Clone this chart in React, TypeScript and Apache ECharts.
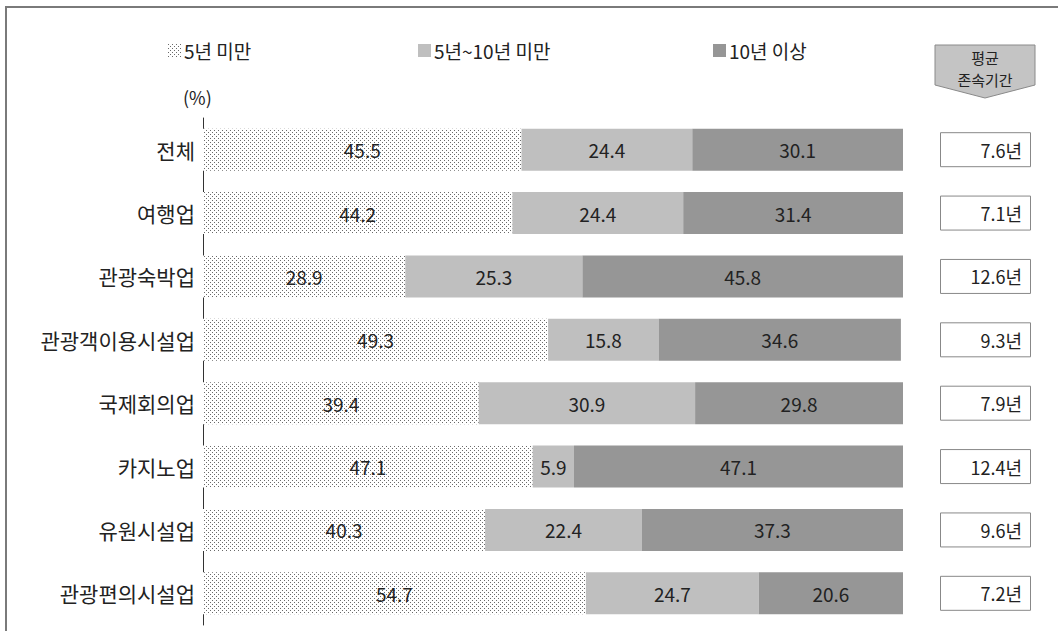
import React, { useEffect, useRef } from "react";
import * as echarts from "echarts";

const categories = ["전체", "여행업", "관광숙박업", "관광객이용시설업", "국제회의업", "카지노업", "유원시설업", "관광편의시설업"];
const under5 = [45.5, 44.2, 28.9, 49.3, 39.4, 47.1, 40.3, 54.7];
const from5to10 = [24.4, 24.4, 25.3, 15.8, 30.9, 5.9, 22.4, 24.7];
const over10 = [30.1, 31.4, 45.8, 34.6, 29.8, 47.1, 37.3, 20.6];
const avgYears = [7.6, 7.1, 12.6, 9.3, 7.9, 12.4, 9.6, 7.2];
const seriesNames = ["5년 미만", "5년~10년 미만", "10년 이상"];
const legendLefts = [163, 413, 708];

const FONT = "'Noto Sans CJK KR', 'Noto Sans', sans-serif";

function makeDotPattern(): string {
  const c = document.createElement("canvas");
  c.width = 4;
  c.height = 4;
  const ctx = c.getContext("2d")!;
  ctx.fillStyle = "#ffffff";
  ctx.fillRect(0, 0, 4, 4);
  ctx.fillStyle = "#6a6a6a";
  ctx.fillRect(0, 0, 1, 1);
  ctx.fillRect(2, 2, 1, 1);
  return c.toDataURL();
}

export default function App() {
  const ref = useRef<HTMLDivElement>(null);
  useEffect(() => {
    if (!ref.current) return;
    const chart = echarts.init(ref.current, null, { renderer: "svg" });
    const dots = { image: makeDotPattern(), repeat: "repeat", imageWidth: 4, imageHeight: 4 } as any;
    const labelStyle = {
      show: true,
      position: "inside",
      color: "#222",
      fontSize: 19,
      fontFamily: FONT,
      formatter: (p: any) => Number(p.value).toFixed(1),
    };
    const colors = [dots, "#bfbfbf", "#969696"];
    const datas = [under5, from5to10, over10];
    const stackSeries = datas.map((d, i) => ({
      name: seriesNames[i],
      type: "bar",
      stack: "total",
      xAxisIndex: 0,
      yAxisIndex: 0,
      barWidth: 42,
      data: d,
      itemStyle: { color: colors[i] },
      label: labelStyle,
    }));
    chart.setOption({
      animation: false,
      legend: seriesNames.map((n, i) => ({
        data: [n],
        left: legendLefts[i],
        top: 36,
        itemGap: 4,
        itemWidth: 13,
        itemHeight: 13,
        icon: "rect",
        textStyle: { fontSize: 19, color: "#222", fontFamily: FONT, padding: [0, 0, 0, -2] },
      })),
      grid: [
        { left: 203, top: 118, width: 700, height: 507 },
        { left: 940, top: 118, width: 91, height: 507 },
      ],
      xAxis: [
        { type: "value", gridIndex: 0, min: 0, max: 100, show: false },
        { type: "value", gridIndex: 1, min: 0, max: 1, show: false },
      ],
      yAxis: [
        {
          type: "category",
          gridIndex: 0,
          inverse: true,
          data: categories,
          axisLine: { show: true, lineStyle: { color: "#333", width: 1 } },
          axisTick: { show: false },
          axisLabel: { color: "#222", fontSize: 21, fontFamily: FONT, margin: 8 },
        },
        {
          type: "category",
          gridIndex: 1,
          inverse: true,
          data: categories,
          show: false,
        },
      ],
      series: [
        ...stackSeries,
        {
          name: "평균 존속기간",
          type: "bar",
          xAxisIndex: 1,
          yAxisIndex: 1,
          barWidth: 35,
          data: avgYears.map(() => 1),
          itemStyle: { color: "#fff", borderColor: "#888", borderWidth: 1 },
          label: {
            show: true,
            position: "insideRight",
            distance: 9,
            color: "#222",
            fontSize: 18,
            fontFamily: FONT,
            formatter: (p: any) => avgYears[p.dataIndex].toFixed(1) + "년",
          },
        },
      ],
      graphic: [
        { type: "line", shape: { x1: 5, y1: 7, x2: 1058, y2: 7 }, style: { stroke: "#7a7a7a", lineWidth: 2 } },
        { type: "line", shape: { x1: 6, y1: 7, x2: 6, y2: 631 }, style: { stroke: "#7a7a7a", lineWidth: 2 } },
        {
          type: "text",
          left: 183,
          top: 88,
          style: { text: "(%)", fontSize: 18, fill: "#222", fontFamily: FONT },
        },
        {
          type: "polygon",
          shape: { points: [[935, 45], [1035, 45], [1035, 85], [985, 98], [935, 85]] },
          style: { fill: "#c4c4c4", stroke: "#8a8a8a", lineWidth: 1 },
        },
        {
          type: "text",
          x: 985,
          y: 57,
          style: { text: "평균", fontSize: 15, fill: "#222", fontFamily: FONT, align: "center", verticalAlign: "middle" },
        },
        {
          type: "text",
          x: 985,
          y: 79,
          style: { text: "존속기간", fontSize: 15, fill: "#222", fontFamily: FONT, align: "center", verticalAlign: "middle" },
        },
      ],
    });
    return () => chart.dispose();
  }, []);
  return (
    <div
      ref={ref}
      style={{ position: "absolute", left: 0, top: 0, width: 1058, height: 631, background: "#fff" }}
    />
  );
}
